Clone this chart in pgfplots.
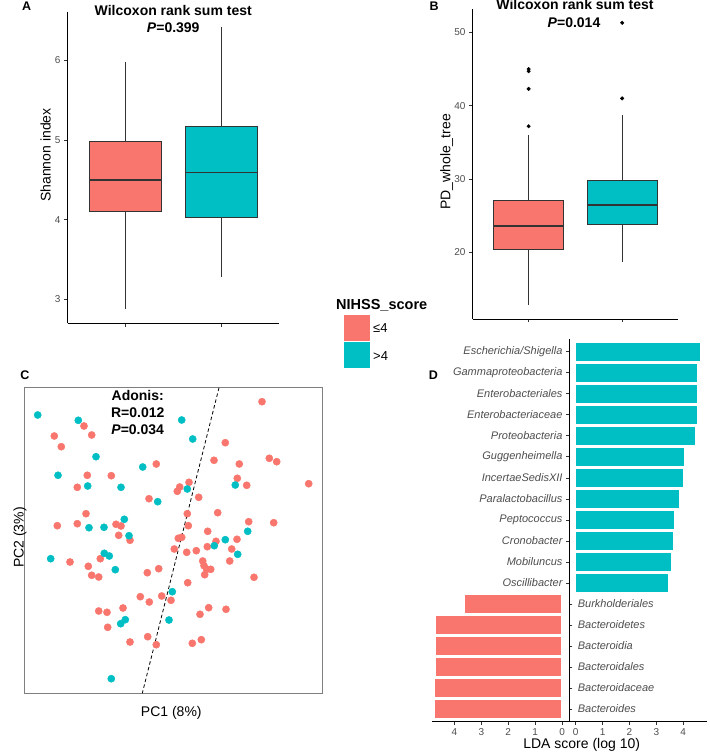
\documentclass[border=0pt]{standalone}
\usepackage{fontspec}
\setmainfont{Liberation Sans}
\usepackage{pgfplots}
\pgfplotsset{compat=1.18}
\usepgfplotslibrary{statistics}
\definecolor{cRed}{HTML}{F8766D}
\definecolor{cTeal}{HTML}{00BFC4}
\definecolor{cTick}{HTML}{4D4D4D}
\definecolor{cEdge}{HTML}{333333}
\definecolor{cFrame}{HTML}{7F7F7F}

\pgfplotsset{
  ggbox/.style={scale only axis, anchor=center, clip=false,
    xmin=0.4, xmax=2.6, axis x line*=bottom, axis y line*=left,
    axis line style={-, line width=0.8pt, black},
    xtick={1,2}, xticklabels={{},{}}, tick align=outside, major tick length=3.5pt,
    tick style={line width=0.6pt, draw=cEdge},
    yticklabel style={font=\fontsize{10}{12}\selectfont, text=cTick},
    /pgf/number format/assume math mode=true,
    boxplot/draw direction=y,
  },
  ggbp/.style={draw=cEdge, line width=0.7pt,
    boxplot/whisker extend=0, boxplot/box extend=0.75,
    boxplot/every median/.style={line width=1.8pt}},
  ldabar/.style={scale only axis, anchor=center, width=137pt, height=382.5pt,
    ymin=0.4, ymax=18.6, y dir=reverse,
    axis x line*=bottom, axis line style={-, line width=0.8pt, black},
    xbar, bar width=0.9, bar shift=0pt,
    xtick={0,1,2,3,4}, tick align=outside, major tick length=3.5pt,
    tick style={line width=0.6pt, draw=cEdge},
    xticklabel style={font=\fontsize{10}{12}\selectfont, text=cTick},
    yticklabel style={font=\fontsize{11}{13}\selectfont\itshape, text=cTick},
    /pgf/number format/assume math mode=true,
  },
}

\begin{document}
\begin{tikzpicture}
\path[use as bounding box] (0pt,0pt) rectangle (709pt,754pt);

% ---------- A: Shannon index ----------
\begin{axis}[ggbox, at={(173.25pt,586.25pt)}, width=211.5pt, height=311.1pt,
  ymin=2.70, ymax=6.60, ytick={3,4,5,6}]
\addplot[ggbp, fill=cRed, boxplot prepared={median=4.50, upper quartile=4.98,
  lower quartile=4.10, upper whisker=5.98, lower whisker=2.88, draw position=1}]
  coordinates {};
\addplot[ggbp, fill=cTeal, boxplot prepared={median=4.59, upper quartile=5.17,
  lower quartile=4.03, upper whisker=6.42, lower whisker=3.28, draw position=2}]
  coordinates {};
\end{axis}

% ---------- B: PD_whole_tree ----------
\begin{axis}[ggbox, at={(575.4pt,590.05pt)}, width=205.8pt, height=310.1pt,
  ymin=10.93, ymax=53.2, ytick={20,30,40,50}]
\addplot[ggbp, fill=cRed, boxplot prepared={median=23.56, upper quartile=27.07,
  lower quartile=20.46, upper whisker=36.0, lower whisker=12.85, draw position=1}]
  coordinates {};
\addplot[ggbp, fill=cTeal, boxplot prepared={median=26.5, upper quartile=29.8,
  lower quartile=23.8, upper whisker=38.7, lower whisker=18.7, draw position=2}]
  coordinates {};
\addplot[only marks, mark=*, mark size=1.8pt, color=black]
  coordinates {(1,45.0) (1,44.7) (1,42.3) (1,37.2) (2,41.0) (2,51.3)};
\end{axis}

% ---------- C: PCoA ----------
\begin{axis}[scale only axis, anchor=center, at={(173.15pt,213.5pt)},
  width=298.3pt, height=305.6pt,
  xmin=24, xmax=322.3, ymin=387.7, ymax=693.3, y dir=reverse,
  xtick=\empty, ytick=\empty,
  axis line style={draw=cFrame, line width=0.9pt}]
\addplot[only marks, mark=*, mark size=3.6pt, color=cRed]
  coordinates {
  (262,401.7) (84,426) (91.7,435) (54.3,436) (61.3,446.7) (225.3,442.7)
  (214,460.3) (269.3,458.3) (276.7,461.7) (156.3,464) (239.3,464) (87.3,475.3)
  (111.3,475.7) (237.3,478.3) (246.7,485.3) (308.7,483.7) (77.3,487.3) (189,482.3)
  (179.7,487) (177.3,491.3) (198.7,497.3) (149,498.7) (86,513.7) (187.3,513.7)
  (217.7,512.7) (57.3,525.7) (77.3,523.7) (116,524.3) (121,526) (188.3,525.7)
  (248.7,521.7) (273.7,522.7) (118.7,535.3) (130,540.3) (207.7,531.3) (178.3,538.3)
  (181.7,537.3) (237,539.3) (174.3,549) (186.7,552.3) (196.3,550.7) (207.3,546.7)
  (216,541.3) (231.7,549) (229.7,561) (70,562) (88.3,566.3) (100.3,558.7)
  (202.7,561) (204,565.7) (206.7,569.3) (210.7,569.3) (204.7,574.7) (91.7,575.3)
  (98.7,577) (147.3,572.7) (158.7,568.7) (187.7,582.7) (254,577.3) (140.3,596.7)
  (149.3,602) (161.7,596) (171,600.3) (98.7,611) (107,612.3) (123,608)
  (200,614.3) (208.7,607.7) (226,609.3) (107.7,627.3) (130,642) (147.7,636.7)
  (156.3,644.7) (192.3,643.3) (201.3,639.7)
  };
\addplot[only marks, mark=*, mark size=3.6pt, color=cTeal]
  coordinates {
  (37.7,415) (78.3,420.3) (181.7,420) (192.7,439) (96,456.7) (142.7,467)
  (58,475.3) (87.7,486) (121,487.3) (187.3,489) (235.3,485) (157.7,501.7)
  (124.3,519.3) (89,527.7) (104,527.3) (129,535.7) (225.3,539.7) (214.3,545.7)
  (247.7,531.3) (237.7,554.3) (50.7,558.7) (104.3,553.3) (109.3,556) (115.3,569.7)
  (172.3,591.7) (120.7,623.7) (125.3,619.7) (169,620) (111.3,678.7)
  };
\addplot[black, line width=0.8pt, dash pattern=on 3.5pt off 2.5pt]
  coordinates {(219,387.7) (142.3,693.3)};
\end{axis}

% ---------- D: LDA, depleted side (red) ----------
\begin{axis}[ldabar, at={(500.3pt,223.65pt)}, x dir=reverse,
  xmin=-0.25, xmax=4.84, axis y line*=right, y axis line style={draw=none},
  ytick={13,...,18},
  yticklabels={Burkholderiales, Bacteroidetes, Bacteroidia, Bacteroidales,
    Bacteroidaceae, Bacteroides},
  yticklabel style={xshift=2pt}]
\addplot[fill=cRed, draw=white, line width=1.2pt]
  coordinates {(3.64,13) (4.70,14) (4.70,15) (4.70,16) (4.74,17) (4.74,18)};
\end{axis}

% ---------- D: LDA, enriched side (teal) ----------
\begin{axis}[ldabar, at={(638pt,223.65pt)},
  xmin=-0.232, xmax=4.87, axis y line*=left,
  ytick={1,...,12},
  yticklabels={Escherichia/Shigella, Gammaproteobacteria, Enterobacteriales,
    Enterobacteriaceae, Proteobacteria, Guggenheimella, IncertaeSedisXII,
    Paralactobacillus, Peptococcus, Cronobacter, Mobiluncus, Oscillibacter}]
\addplot[fill=cTeal, draw=white, line width=1.2pt]
  coordinates {(4.64,1) (4.54,2) (4.54,3) (4.53,4) (4.48,5) (4.05,6)
    (4.00,7) (3.85,8) (3.69,9) (3.64,10) (3.56,11) (3.46,12)};
\end{axis}

% ---------- texts ----------
\begin{scope}[every node/.style={font=\fontsize{12.5}{14}\selectfont\bfseries}]
\node at (26.7pt,747.7pt) {A};
\node at (434.2pt,748pt) {B};
\node at (25pt,378.3pt) {C};
\node at (433.3pt,379pt) {D};
\end{scope}
\begin{scope}[every node/.style={font=\fontsize{14}{16}\selectfont\bfseries}]
\node at (173.25pt,743pt) {Wilcoxon rank sum test};
\node at (173.25pt,726pt) {\textit{P}=0.399};
\node at (575pt,749pt) {Wilcoxon rank sum test};
\node at (574pt,731.3pt) {\textit{P}=0.014};
\node at (137.7pt,358.3pt) {Adonis:};
\node at (137.7pt,341.3pt) {R=0.012};
\node at (137.7pt,324.7pt) {\textit{P}=0.034};
\end{scope}
\begin{scope}[every node/.style={font=\fontsize{14}{16}\selectfont}]
\node[rotate=90] at (45.7pt,599pt) {Shannon index};
\node[rotate=90] at (446.7pt,592pt) {PD\_whole\_tree};
\node[rotate=90] at (20pt,216.5pt) {PC2 (3\%)};
\node at (171.3pt,41pt) {PC1 (8\%)};
\node at (581.7pt,9pt) {LDA score (log 10)};
\end{scope}

% legend
\node[font=\fontsize{14.5}{16}\selectfont\bfseries] at (381.7pt,449pt) {NIHSS\_score};
\fill[cRed] (344.3pt,413pt) rectangle (370pt,439pt);
\fill[cTeal] (344.3pt,386.3pt) rectangle (370pt,412.3pt);
\node[anchor=west, font=\fontsize{13}{15}\selectfont, inner sep=1pt] at (372pt,426pt) {≤4};
\node[anchor=west, font=\fontsize{13}{15}\selectfont, inner sep=1pt] at (372pt,398pt) {>4};
\end{tikzpicture}
\end{document}
